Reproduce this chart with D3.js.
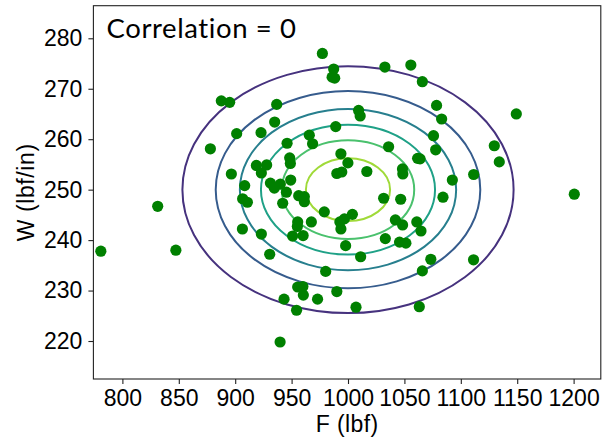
<!DOCTYPE html>
<html>
<head>
<meta charset="utf-8">
<script src="https://cdn.jsdelivr.net/npm/d3@7"></script>
<style>
  html, body { margin: 0; padding: 0; background: #fff; }
  svg { display: block; }
</style>
</head>
<body>
<svg id="chart" width="603" height="441"></svg>
<script>
// Sample measurements: force F (lbf) and stiffness W (lbf/in)
const F = [
  887.7, 895.1, 936.8, 935.0, 901.3, 922.9, 878.0, 946.0, 918.8, 927.9,
  923.2, 948.3, 948.9, 896.6, 908.4, 931.2, 934.7, 940.0, 949.2, 945.4,
  956.3, 961.3, 961.3, 906.6, 910.8, 942.1, 831.3, 977.3, 987.3, 985.9,
  988.2, 1032.7, 1055.7, 1065.9, 1078.5, 1083.0, 1149.2, 1009.4, 1010.8, 989.1,
  965.7, 968.6, 1036.0, 1075.8, 1077.7, 1129.7, 1134.1, 993.7, 999.9, 990.1,
  994.5, 1016.7, 1061.7, 1063.9, 1048.3, 1048.6, 1092.5, 1111.4, 1200.6, 1031.6,
  1046.7, 1084.2, 979.0, 996.8, 992.8, 1003.9, 993.7, 1042.0, 1048.4, 1061.0,
  1064.7, 967.5, 955.4, 955.1, 960.2, 950.9, 923.2, 906.4, 930.6, 997.9,
  1011.2, 980.2, 1033.1, 1045.7, 1051.3, 1073.4, 1111.3, 1065.9, 955.4, 960.0,
  960.4, 943.3, 954.4, 973.0, 990.1, 1007.1, 1063.2, 939.8, 780.9, 847.4
];
const W = [
  267.6, 267.3, 266.9, 263.4, 261.1, 261.3, 258.1, 259.2, 254.8, 254.9,
  253.3, 256.3, 255.2, 253.1, 250.8, 251.3, 250.3, 251.1, 251.9, 249.5,
  248.8, 248.6, 247.6, 248.2, 247.5, 247.3, 246.7, 277.0, 273.9, 272.3,
  272.1, 274.3, 274.7, 271.4, 266.7, 264.0, 265.0, 265.7, 264.6, 262.5,
  260.8, 259.1, 258.5, 260.7, 257.9, 258.7, 255.5, 257.1, 255.3, 253.2,
  253.5, 253.6, 256.2, 256.1, 254.1, 253.1, 251.9, 253.0, 249.1, 248.3,
  248.1, 248.5, 245.6, 244.2, 243.6, 245.1, 242.2, 244.0, 243.0, 243.6,
  241.8, 243.6, 243.6, 242.7, 240.9, 240.8, 241.2, 242.2, 237.2, 238.9,
  236.7, 233.8, 240.3, 239.6, 239.4, 236.2, 236.1, 233.9, 230.7, 230.8,
  229.1, 228.3, 226.1, 228.3, 229.8, 226.7, 226.8, 219.8, 237.8, 238.0
];

// Independent normal model used for the density contours (correlation 0)
const meanF = 1000, meanW = 250;
const sdF = 75, sdW = 12.5;
const contourLevels = [2.5e-5, 5.0e-5, 7.5e-5, 1.0e-4, 1.25e-4, 1.5e-4];
const levelMax = 1.75e-4;

const xTicks = [800, 850, 900, 950, 1000, 1050, 1100, 1150, 1200];
const yTicks = [220, 230, 240, 250, 260, 270, 280];
const xLabel = "F (lbf)";
const yLabel = "W (lbf/in)";
const title = "Correlation = 0";

const svg = d3.select("#chart");
const plotLeft = 93.4, plotRight = 600.8, plotTop = 5.7, plotBottom = 379;

const x = d3.scaleLinear().domain([774.3, 1224.1]).range([plotLeft, plotRight]);
const y = d3.scaleLinear().domain([212.47, 286.46]).range([plotBottom, plotTop]);

svg.append("defs").append("clipPath").attr("id", "plotClip")
  .append("rect").attr("x", plotLeft).attr("y", plotTop)
  .attr("width", plotRight - plotLeft).attr("height", plotBottom - plotTop);

const plot = svg.append("g").attr("clip-path", "url(#plotClip)");

// Contours of the bivariate normal pdf: each level is an ellipse
const peak = 1 / (2 * Math.PI * sdF * sdW);
plot.selectAll("ellipse.level")
  .data(contourLevels)
  .join("ellipse")
  .attr("class", "level")
  .attr("cx", x(meanF))
  .attr("cy", y(meanW))
  .attr("rx", d => x(meanF + sdF * Math.sqrt(-2 * Math.log(d / peak))) - x(meanF))
  .attr("ry", d => y(meanW) - y(meanW + sdW * Math.sqrt(-2 * Math.log(d / peak))))
  .attr("fill", "none")
  .attr("stroke", d => d3.interpolateViridis(d / levelMax))
  .attr("stroke-width", 2);

// Scatter of the samples
plot.selectAll("circle.pt")
  .data(d3.range(F.length))
  .join("circle")
  .attr("class", "pt")
  .attr("cx", i => x(F[i]))
  .attr("cy", i => y(W[i]))
  .attr("r", 5.6)
  .attr("fill", "#008000");

// Axes
const fontFam = "'Liberation Sans', Arial, sans-serif";
const xAxis = svg.append("g")
  .attr("transform", `translate(0,${plotBottom})`)
  .call(d3.axisBottom(x).tickValues(xTicks).tickSize(5).tickPadding(6).tickFormat(d3.format("d")));
const yAxis = svg.append("g")
  .attr("transform", `translate(${plotLeft},0)`)
  .call(d3.axisLeft(y).tickValues(yTicks).tickSize(5).tickPadding(6).tickFormat(d3.format("d")));

[xAxis, yAxis].forEach(g => {
  g.select(".domain").remove();
  g.selectAll(".tick line").attr("stroke", "#222").attr("stroke-width", 1.1);
  g.selectAll(".tick text").attr("fill", "#000")
    .style("font-family", fontFam).style("font-size", "23px");
});
xAxis.selectAll(".tick text").attr("dy", "0.68em");

// Frame
svg.append("rect")
  .attr("x", plotLeft).attr("y", plotTop)
  .attr("width", plotRight - plotLeft).attr("height", plotBottom - plotTop)
  .attr("fill", "none").attr("stroke", "#222").attr("stroke-width", 1.1);

// Axis labels
svg.append("text")
  .attr("x", (plotLeft + plotRight) / 2).attr("y", 432)
  .attr("text-anchor", "middle")
  .style("font-family", fontFam).style("font-size", "23px")
  .style("letter-spacing", "0.4px")
  .text(xLabel);

svg.append("text")
  .attr("transform", `translate(33.5,${(plotTop + plotBottom) / 2}) rotate(-90)`)
  .attr("text-anchor", "middle")
  .style("font-family", fontFam).style("font-size", "23px")
  .style("letter-spacing", "0.6px")
  .text(yLabel);

// Title inside the axes
svg.append("text")
  .attr("x", 106.5).attr("y", 37.7)
  .style("font-family", "Lato, 'Open Sans', sans-serif").style("font-size", "27.5px")
  .style("letter-spacing", "0.6px")
  .text(title);
</script>
</body>
</html>
